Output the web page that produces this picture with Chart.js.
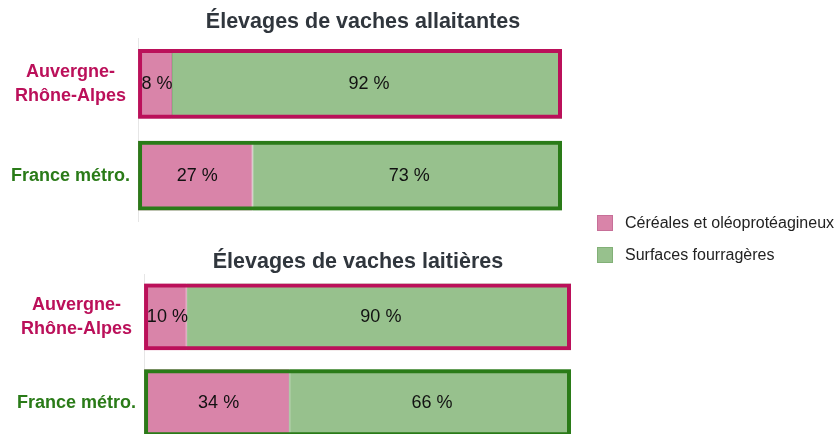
<!DOCTYPE html>
<html lang="fr">
<head>
  <meta charset="UTF-8" />
  <title>Élevages de vaches</title>
  <style>
    body {
      margin: 0;
      width: 835px;
      height: 434px;
      overflow: hidden;
      background: #ffffff;
      font-family: "Liberation Sans", Arial, sans-serif;
      position: relative;
    }
    .box { position: absolute; }
    #box1 { left: 0; top: 0; width: 580px; height: 253px; }
    #box2 { left: 6px; top: 240px; width: 583px; height: 237px; }
    .title {
      position: absolute;
      text-align: center;
      font-weight: bold;
      font-size: 21.5px;
      color: #30363d;
      white-space: nowrap;
    }
    #t1 { left: 0; width: 726px; top: 9px; }
    #t2 { left: 0; width: 716px; top: 249px; }
    #legend { position: absolute; left: 597px; top: 212px; }
    #legend div { display: flex; align-items: center; height: 22px; margin-bottom: 10px; font-size: 16px; color: #222; }
    #legend span.sw { width: 14px; height: 14px; margin-right: 12px; border: 1px solid; }
  </style>
</head>
<body>
  <div class="box" id="box1"><canvas id="c1"></canvas></div>
  <div class="box" id="box2"><canvas id="c2"></canvas></div>
  <div class="title" id="t1"></div>
  <div class="title" id="t2"></div>
  <div id="legend"></div>

  <script src="https://cdn.jsdelivr.net/npm/chart.js"></script>
  <script>
    // données
    const regions = [["Auvergne-", "Rhône-Alpes"], "France métro."];
    const seriesNames = ["Céréales et oléoprotéagineux", "Surfaces fourragères"];
    const titles = ["Élevages de vaches allaitantes", "Élevages de vaches laitières"];
    const allaitCereales = [8, 27];
    const allaitFourrage = [92, 73];
    const laitCereales = [10, 34];
    const laitFourrage = [90, 66];
    const outlineTotal = [100, 100];

    const fills = ["#d984a9", "#97c18d"];
    const edges = ["#c76f98", "#82b077"];
    const regionColors = ["#bb105a", "#2a7b18"];
    const font = '"Liberation Sans", Arial, sans-serif';

    // étiquettes au centre des segments
    const valueLabels = {
      id: "valueLabels",
      afterDatasetsDraw(chart) {
        const ctx = chart.ctx;
        ctx.save();
        ctx.font = "18px " + font;
        ctx.fillStyle = "#111";
        ctx.textAlign = "center";
        ctx.textBaseline = "middle";
        chart.data.datasets.forEach((ds, i) => {
          if (ds.isOutline) return;
          chart.getDatasetMeta(i).data.forEach((el, j) => {
            ctx.fillText(ds.data[j] + " %", (el.x + el.base) / 2 + 2, el.y);
          });
        });
        ctx.restore();
      }
    };

    function makeChart(id, cer, four, pad, pct) {
      return new Chart(document.getElementById(id), {
        type: "bar",
        data: {
          labels: regions,
          datasets: [
            { label: seriesNames[0], data: cer, backgroundColor: fills[0], borderColor: edges[0],
              borderWidth: 1, borderSkipped: false, stack: "s", grouped: false, order: 1 },
            { label: seriesNames[1], data: four, backgroundColor: fills[1], borderColor: edges[1],
              borderWidth: 1, borderSkipped: false, stack: "s", grouped: false, order: 1 },
            { label: "cadre", data: outlineTotal, backgroundColor: "rgba(0,0,0,0)", borderColor: regionColors,
              borderWidth: 4, borderSkipped: false, stack: "o", grouped: false, order: 0, isOutline: true }
          ]
        },
        options: {
          indexAxis: "y",
          responsive: true,
          maintainAspectRatio: false,
          animation: false,
          barPercentage: pct,
          categoryPercentage: 1,
          layout: { padding: pad },
          plugins: {
            legend: { display: false },
            tooltip: { enabled: false },
            title: { display: false }
          },
          scales: {
            x: {
              stacked: true, min: 0, max: 100,
              display: false
            },
            y: {
              stacked: true,
              grid: { display: false, drawTicks: false },
              border: { display: true, color: "#e6e6e6" },
              ticks: {
                padding: 8,
                crossAlign: "center",
                color: ctx => regionColors[ctx.index],
                font: { family: font, size: 18, weight: "bold", lineHeight: 1.3 }
              }
            }
          }
        },
        plugins: [valueLabels]
      });
    }

    makeChart("c1", allaitCereales, allaitFourrage, { left: 3, right: 18, top: 38, bottom: 0 }, 0.76);
    makeChart("c2", laitCereales, laitFourrage, { left: 3, right: 18, top: 34, bottom: 0 }, 0.78);

    document.getElementById("t1").textContent = titles[0];
    document.getElementById("t2").textContent = titles[1];

    // légende commune
    const legend = document.getElementById("legend");
    seriesNames.forEach((name, i) => {
      const row = document.createElement("div");
      const sw = document.createElement("span");
      sw.className = "sw";
      sw.style.background = fills[i];
      sw.style.borderColor = edges[i];
      row.appendChild(sw);
      row.appendChild(document.createTextNode(name));
      legend.appendChild(row);
    });
  </script>
</body>
</html>
